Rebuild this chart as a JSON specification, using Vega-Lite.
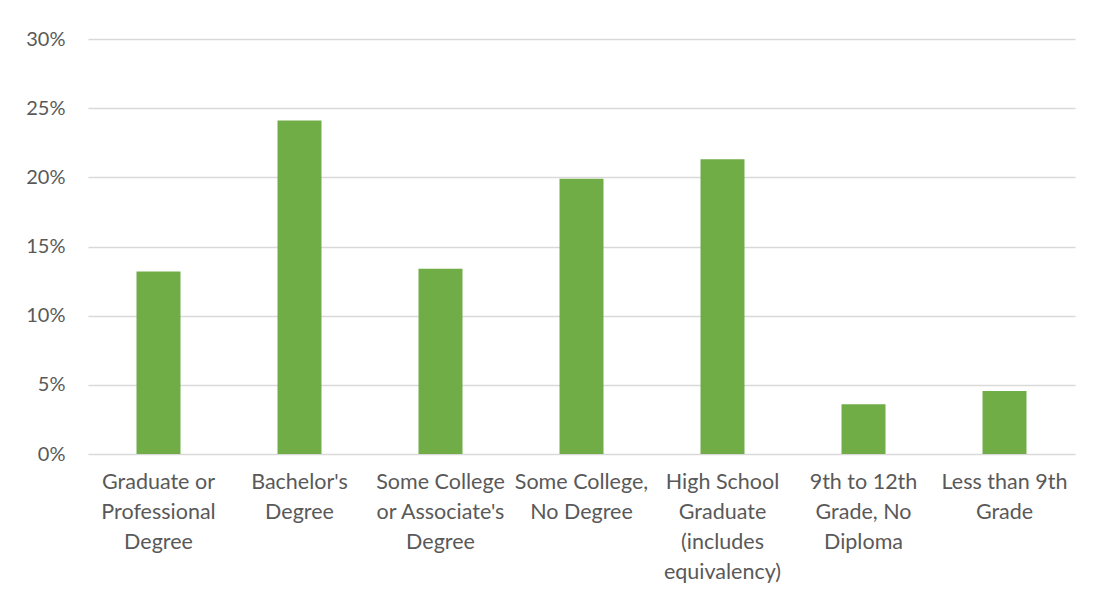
{
  "$schema": "https://vega.github.io/schema/vega-lite/v6.json",
  "autosize": "none",
  "width": 987,
  "height": 415,
  "padding": {"left": 88, "top": 39, "right": 19, "bottom": 148},
  "background": "white",
  "config": {"view": {"stroke": null}},
  "data": {
    "values": [
      {"category": "Graduate or\nProfessional\nDegree", "share": 0.132},
      {"category": "Bachelor's\nDegree", "share": 0.241},
      {"category": "Some College\nor Associate's\nDegree", "share": 0.134},
      {"category": "Some College,\nNo Degree", "share": 0.199},
      {"category": "High School\nGraduate\n(includes\nequivalency)", "share": 0.213},
      {"category": "9th to 12th\nGrade, No\nDiploma", "share": 0.036},
      {"category": "Less than 9th\nGrade", "share": 0.0455}
    ]
  },
  "mark": {"type": "bar", "color": "#70ad47"},
  "encoding": {
    "x": {
      "field": "category",
      "type": "nominal",
      "sort": null,
      "scale": {"paddingInner": 0.688, "paddingOuter": 0.344},
      "axis": {
        "title": null,
        "labelAngle": 0,
        "labelExpr": "split(datum.value, '\\n')",
        "labelFont": "Lato",
        "labelFontSize": 21.5,
        "labelColor": "#595959",
        "labelBaseline": "top",
        "labelLineHeight": 30,
        "labelPadding": 17,
        "labelLimit": 200,
        "domain": false,
        "ticks": false
      }
    },
    "y": {
      "field": "share",
      "type": "quantitative",
      "scale": {"domain": [0, 0.3]},
      "axis": {
        "title": null,
        "format": ".0%",
        "values": [0, 0.05, 0.1, 0.15, 0.2, 0.25, 0.3],
        "labelFont": "Lato",
        "labelFontSize": 20,
        "labelColor": "#595959",
        "labelPadding": 23,
        "ticks": false,
        "domain": false,
        "grid": true,
        "gridColor": "#d9d9d9",
        "gridWidth": 1.5
      }
    }
  }
}
